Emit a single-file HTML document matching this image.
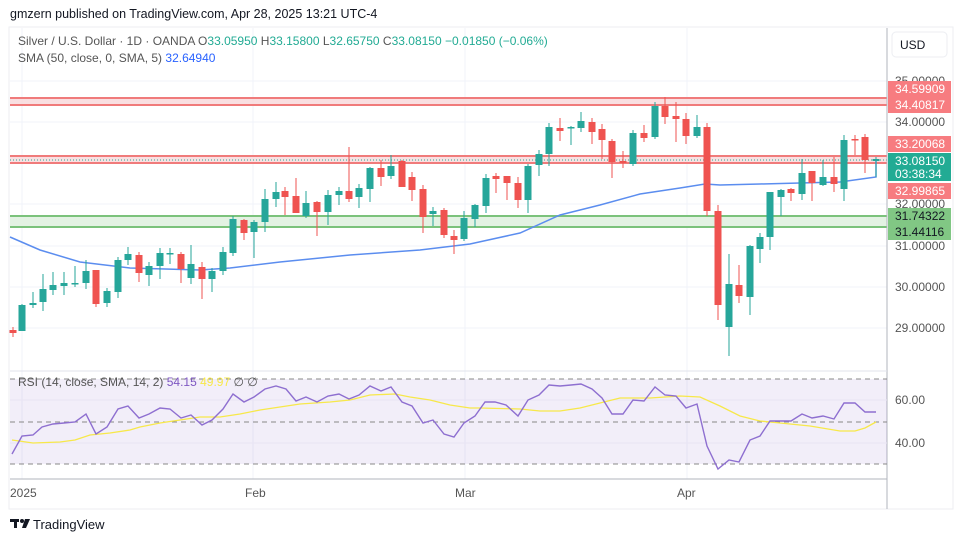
<!DOCTYPE html>
<html><head><meta charset="utf-8"><style>
body{margin:0;background:#fff;width:964px;height:542px;overflow:hidden;font-family:"Liberation Sans",sans-serif}
svg{position:absolute;left:0;top:0}
</style></head><body>
<svg width="964" height="542" xmlns="http://www.w3.org/2000/svg" font-family="Liberation Sans, sans-serif">
<rect x="9" y="27" width="944" height="482" fill="#fff" stroke="#eceef2"/>
<text x="10" y="18" font-size="12.5" fill="#131722">gmzern published on TradingView.com, Apr 28, 2025 13:21 UTC-4</text>
<g stroke="#f0f3fa" stroke-width="1">
<line x1="10" y1="81" x2="887" y2="81"/><line x1="10" y1="122" x2="887" y2="122"/><line x1="10" y1="163" x2="887" y2="163"/><line x1="10" y1="204" x2="887" y2="204"/><line x1="10" y1="246" x2="887" y2="246"/><line x1="10" y1="287" x2="887" y2="287"/><line x1="10" y1="328" x2="887" y2="328"/>
<line x1="22" y1="28" x2="22" y2="479"/><line x1="253" y1="28" x2="253" y2="479"/><line x1="465" y1="28" x2="465" y2="479"/><line x1="687" y1="28" x2="687" y2="479"/>
</g>
<rect x="10" y="97" width="877" height="8" fill="#f8d7da" opacity="0.8"/>
<line x1="10" y1="98" x2="887" y2="98" stroke="#f07b7b" stroke-width="2"/>
<line x1="10" y1="105" x2="887" y2="105" stroke="#f07b7b" stroke-width="2"/>
<rect x="10" y="156" width="877" height="7" fill="#f8d7da" opacity="0.8"/>
<line x1="10" y1="156" x2="887" y2="156" stroke="#f07b7b" stroke-width="2"/>
<line x1="10" y1="163" x2="887" y2="163" stroke="#f07b7b" stroke-width="2"/>
<rect x="10" y="216" width="877" height="11" fill="#e3f2e3"/>
<line x1="10" y1="216" x2="887" y2="216" stroke="#7bc27b" stroke-width="2"/>
<line x1="10" y1="227" x2="887" y2="227" stroke="#7bc27b" stroke-width="2"/>
<line x1="10" y1="160" x2="887" y2="160" stroke="#22ab94" stroke-dasharray="1,2"/>
<polyline fill="none" stroke="#5b8def" stroke-width="1.5" points="10,237 40,250 80,262 130,268 200,270 230,268 280,262 350,255 420,250 470,244 520,233 560,215 600,205 640,194 680,188 705,184 720,185 760,184 800,183 840,182 876,177 876,160"/>
<g id="candles"></g>
<line x1="887" y1="28" x2="887" y2="509" stroke="#b2b5be"/>
<rect x="892" y="32" width="55" height="25" rx="4" fill="#fff" stroke="#eceef2"/>
<text x="900" y="49" font-size="12" fill="#131722">USD</text>
<g font-size="12" fill="#555">
<text x="895" y="85">35.00000</text><text x="895" y="126">34.00000</text><text x="895" y="208">32.00000</text><text x="895" y="250">31.00000</text><text x="895" y="291">30.00000</text><text x="895" y="332">29.00000</text>
</g>
<g font-size="12">
<rect x="888" y="81" width="63" height="16" fill="#f77c80"/><text x="895" y="93" fill="#fff">34.59909</text>
<rect x="888" y="97" width="63" height="16" fill="#f77c80"/><text x="895" y="109" fill="#fff">34.40817</text>
<rect x="888" y="136" width="63" height="16" fill="#f77c80"/><text x="895" y="148" fill="#fff">33.20068</text>
<rect x="888" y="153" width="63" height="28" fill="#22ab94"/><text x="895" y="165" fill="#fff">33.08150</text><text x="895" y="178" fill="#fff">03:38:34</text>
<rect x="888" y="183" width="63" height="16" fill="#f77c80"/><text x="895" y="195" fill="#fff">32.99865</text>
<rect x="888" y="208" width="63" height="16" fill="#81c784"/><text x="895" y="220" fill="#131722">31.74322</text>
<rect x="888" y="224" width="63" height="16" fill="#81c784"/><text x="895" y="236" fill="#131722">31.44116</text>
</g>
<text x="18" y="45" font-size="12" fill="#555">Silver / U.S. Dollar · 1D · OANDA  <tspan>O</tspan><tspan fill="#22ab94">33.05950</tspan> H<tspan fill="#22ab94">33.15800</tspan> L<tspan fill="#22ab94">32.65750</tspan> C<tspan fill="#22ab94">33.08150</tspan> <tspan fill="#22ab94">−0.01850 (−0.06%)</tspan></text>
<text x="18" y="62" font-size="12" fill="#555">SMA (50, close, 0, SMA, 5) <tspan fill="#2962ff">32.64940</tspan></text>
<line x1="10" y1="371" x2="887" y2="371" stroke="#e0e3eb"/>
<rect x="10" y="379" width="877" height="85" fill="#7e57c2" opacity="0.1"/>
<g stroke="#888" stroke-dasharray="5,4"><line x1="10" y1="379" x2="887" y2="379"/><line x1="10" y1="422" x2="887" y2="422"/><line x1="10" y1="464" x2="887" y2="464"/></g>
<g stroke="#e8e4f3"><line x1="10" y1="400" x2="887" y2="400"/><line x1="10" y1="443" x2="887" y2="443"/></g>
<polyline fill="none" stroke="#f7e84a" stroke-width="1.3" points="12,440 33,443 60,442 75,440 90,435 110,433 130,430 140,427 160,423 180,420 200,417 220,417 240,414 260,410 280,407 300,404 330,402 350,400 370,395 395,394 410,397 430,400 450,405 470,408 480,408 520,409 540,411 560,411 580,408 600,403 620,398 650,398 680,396 700,397 720,406 740,416 760,421 780,423 810,426 840,431 855,431 865,428 876,422"/>
<polyline fill="none" stroke="#8e6fd0" stroke-width="1.4" points="12,454 22,436 33,435 42,427 53,424 64,423 75,422 86,414 96,434 107,427 118,409 128,406 139,418 149,414 160,408 170,409 181,418 191,415 202,425 212,420 223,409 233,394 244,402 254,397 265,389 276,386 286,389 296,401 306,397 317,402 328,396 339,394 349,399 359,395 370,386 381,391 391,387 402,402 412,406 423,423 433,420 444,434 454,437 464,423 475,416 485,402 495,402 506,405 518,416 528,400 539,395 549,385 560,386 571,385 581,384 592,389 602,398 612,414 623,414 633,400 644,401 655,387 665,395 676,396 686,408 697,404 707,446 718,469 729,460 739,462 750,440 760,436 770,421 781,421 791,421 802,414 812,418 823,416 834,419 844,403 855,403 865,412 876,412"/>
<text x="18" y="386" font-size="12" fill="#555">RSI (14, close, SMA, 14, 2) <tspan fill="#7e57c2">54.15</tspan> <tspan fill="#f7e84a">49.97</tspan> <tspan>∅ ∅</tspan></text>
<text x="895" y="404" font-size="12" fill="#555">60.00</text>
<text x="895" y="447" font-size="12" fill="#555">40.00</text>
<line x1="10" y1="479" x2="887" y2="479" stroke="#b2b5be"/>
<g font-size="12" fill="#555"><text x="10" y="497">2025</text><text x="245" y="497">Feb</text><text x="455" y="497">Mar</text><text x="677" y="497">Apr</text></g>
<g fill="#131722"><rect x="10" y="519" width="9" height="3"/><rect x="14" y="519" width="3" height="9"/><circle cx="22" cy="521" r="2"/><polygon points="25,519 30,519 26,528 22,528"/></g>
<text x="33" y="529" font-size="13" fill="#131722">TradingView</text>
</svg>
<script>
var c=[
[13,330,333,327,337,0],[22,305,331,304,331,1],[33,303,305,292,308,1],[43,289,302,274,311,1],[53,285,290,272,295,1],[64,283,286,272,295,1],[75,283,284,266,287,1],[86,271,283,260,289,1],[96,270,304,270,307,0],[107,291,303,288,307,1],[118,260,292,257,298,1],[128,254,260,247,265,1],[139,255,273,252,282,0],[149,266,275,262,286,1],[160,253,266,248,279,1],[170,253,254,248,264,1],[181,254,269,252,283,0],[191,264,278,245,284,1],[202,267,279,262,299,0],[212,271,279,268,292,1],[223,252,271,247,275,1],[233,219,253,216,256,1],[244,220,233,219,240,0],[254,222,232,220,258,1],[265,199,222,189,232,1],[276,192,199,182,207,1],[285,191,197,187,215,0],[296,196,213,178,213,0],[306,203,216,191,218,1],[317,202,212,201,236,0],[328,195,212,190,225,1],[339,191,195,187,205,1],[349,191,199,147,202,0],[359,188,197,184,208,1],[370,168,189,167,202,1],[381,168,177,160,186,0],[391,166,176,155,179,1],[402,161,187,160,187,0],[412,177,190,172,201,0],[423,189,217,185,233,0],[433,211,214,207,226,1],[444,210,235,208,238,0],[454,236,240,230,254,0],[464,218,239,211,241,1],[475,205,219,204,227,1],[486,178,206,174,213,1],[496,176,179,173,193,0],[507,176,183,176,200,0],[518,183,200,177,208,0],[528,166,200,164,213,1],[539,154,165,150,176,1],[549,127,154,123,166,1],[560,128,131,118,141,0],[571,127,128,126,145,1],[581,121,128,112,132,1],[592,122,132,118,144,0],[602,129,140,124,159,0],[612,141,162,139,178,0],[623,161,163,151,168,0],[633,133,164,130,166,1],[644,133,138,125,142,0],[655,106,137,102,139,1],[665,106,117,97,124,0],[676,116,119,102,142,0],[686,119,136,113,144,0],[697,127,136,115,138,1],[707,127,211,123,216,0],[718,211,305,205,320,0],[729,284,327,254,356,1],[739,285,296,265,303,0],[750,246,297,245,315,1],[760,237,249,233,263,1],[770,192,237,192,250,1],[781,190,197,189,216,1],[791,189,193,188,201,0],[802,173,194,159,200,1],[812,171,183,171,201,0],[823,177,185,160,186,1],[834,177,184,157,192,0],[844,140,189,135,201,1],[855,139,140,135,155,0],[865,137,160,134,173,0],[876,159,161,157,177,1]];
var s='';c.forEach(function(d){var col=d[5]?'#26a69a':'#ef5350';var top=Math.min(d[1],d[2]),h=Math.max(1.5,Math.abs(d[2]-d[1]));
s+='<line x1="'+d[0]+'" y1="'+d[3]+'" x2="'+d[0]+'" y2="'+d[4]+'" stroke="'+col+'" stroke-width="1"/>';
s+='<rect x="'+(d[0]-3.5)+'" y="'+top+'" width="7" height="'+h+'" fill="'+col+'"/>';});
document.getElementById('candles').innerHTML=s;
</script>
</body></html>
